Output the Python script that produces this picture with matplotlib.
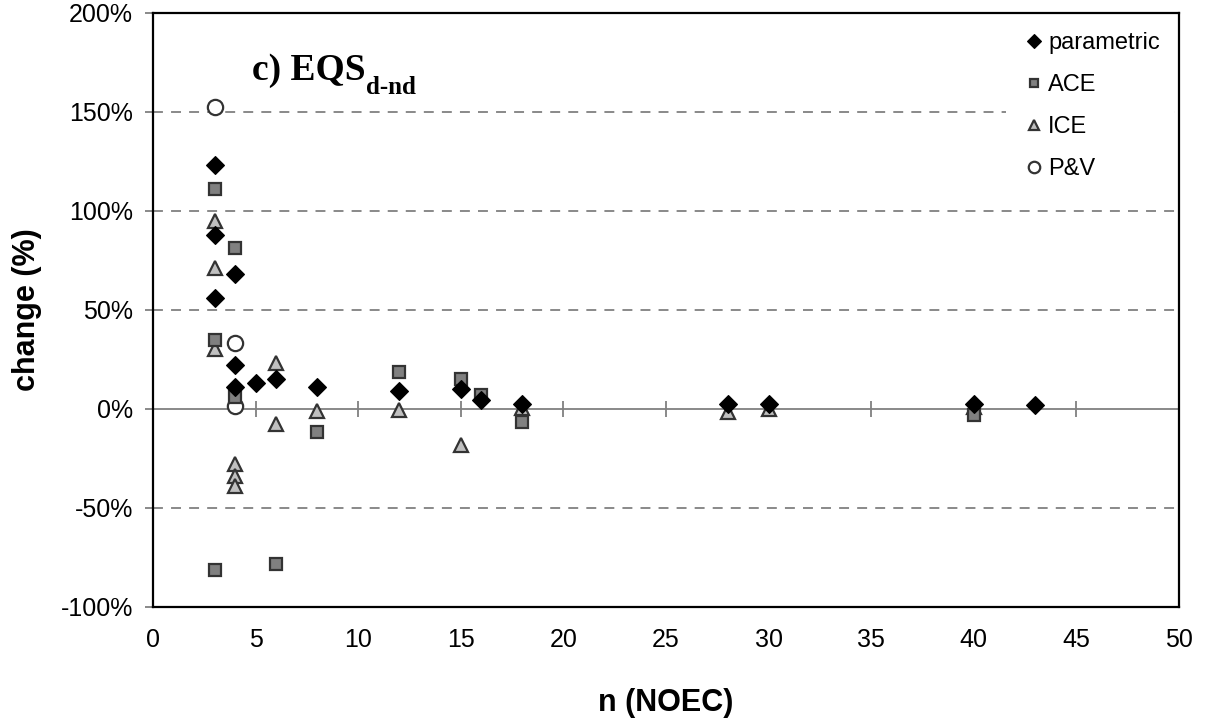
import matplotlib
matplotlib.use("Agg")
import matplotlib.pyplot as plt
from matplotlib.ticker import FuncFormatter

# Data (x = n NOEC, y = change in %)
param_x = [3, 3, 3, 4, 4, 4, 5, 6, 8, 12, 15, 16, 18, 28, 30, 40, 43]
param_y = [123, 88, 56, 68, 22, 11, 13, 15, 11, 9, 10, 4.5, 2.5, 2.3, 2.3, 2.6, 1.8]

ace_x = [3, 3, 3, 4, 4, 6, 8, 12, 15, 16, 18, 40]
ace_y = [111, 35, -81.5, 81.5, 6, -78.5, -11.8, 18.5, 15, 7, -6.7, -3.3]

ice_x = [3, 3, 3, 4, 4, 4, 6, 6, 8, 12, 15, 18, 28, 30, 40]
ice_y = [95, 71, 30, -28, -34, -39, 23, -7.5, -1.3, -0.4, -18.5, 0.6, -1.6, 0, 1]

pv_x = [3, 4, 4]
pv_y = [152.5, 33, 1.4]

x_ticks = list(range(0, 51, 5))
y_ticks = [-100, -50, 0, 50, 100, 150, 200]

plt.rcParams['font.family'] = ['Liberation Sans', 'DejaVu Sans']

W, H = 1206, 720
fig = plt.figure(figsize=(W / 100, H / 100), dpi=100)
ax = fig.add_axes([153 / W, 1 - 606.7 / H, (1179 - 153) / W, (606.7 - 13) / H])

ax.set_xlim(0, 50)
ax.set_ylim(-100, 200)

# gridlines
for v in [-50, 50, 100, 150]:
    ax.axhline(v, color='#808080', lw=1.3, ls=(0, (5.5, 4.5)), zorder=1)
ax.axhline(0, color='#808080', lw=1.3, zorder=1)

ax.plot(param_x, param_y, ls='none', marker='D', ms=9, mfc='black', mec='black',
        mew=0.8, label='parametric', zorder=5)
ax.plot(ace_x, ace_y, ls='none', marker='s', ms=8, mfc='#808080', mec='#333333',
        mew=1.6, label='ACE', zorder=4)
ax.plot(ice_x, ice_y, ls='none', marker='^', ms=10, mfc='#c0c0c0', mec='#333333',
        mew=1.6, label='ICE', zorder=3)
ax.plot(pv_x, pv_y, ls='none', marker='o', ms=11, mfc='white', mec='#333333',
        mew=1.6, label='P&V', zorder=2)

for s in ax.spines.values():
    s.set_linewidth(1.6)
    s.set_color('black')

ax.set_xticks(x_ticks)
ax.set_yticks(y_ticks)
ax.yaxis.set_major_formatter(FuncFormatter(lambda v, p: f"{int(v)}%"))
ax.tick_params(axis='x', length=0, pad=15, labelsize=18)
ax.tick_params(axis='y', direction='out', length=5.5, width=1.3, color='#808080',
               pad=9, labelsize=18)

# axis crossing at 0% with cross ticks
sec = ax.secondary_xaxis(1 / 3)
sec.set_xticks(x_ticks[1:-1])
sec.tick_params(axis='x', direction='inout', length=11, width=1.3, color='#808080',
                labelbottom=False, labeltop=False)
for sp in sec.spines.values():
    sp.set_visible(False)

ax.set_xlabel('n (NOEC)', fontsize=22, fontweight='bold')
ax.set_ylabel('change (%)', fontsize=22, fontweight='bold')
ax.xaxis.set_label_coords(0.5, 1 - (688 - 13) / (606.7 - 13))
ax.yaxis.set_label_coords((42 - 153) / 1026, 0.5)

title = fig.text(252 / W, 1 - 80 / H, 'c) EQS', fontsize=27, fontweight='bold',
                 family='Liberation Serif', va='baseline', ha='left')
ax.annotate('d-nd', xy=(1, 0), xycoords=title, xytext=(0.5, -4),
            textcoords='offset points', fontsize=18, fontweight='bold',
            family='Liberation Serif', va='baseline', ha='left')

leg = ax.legend(loc='upper right', bbox_to_anchor=(1.0, 1.0), frameon=True,
                fontsize=17, handletextpad=0.0, labelspacing=0.85, borderpad=0.6,
                handlelength=1.2, markerscale=0.75, borderaxespad=0.2)
leg.get_frame().set_edgecolor('none')
leg.get_frame().set_facecolor('white')
leg.get_frame().set_alpha(1)
leg.set_zorder(10)

fig.savefig('out.png', dpi=100)
